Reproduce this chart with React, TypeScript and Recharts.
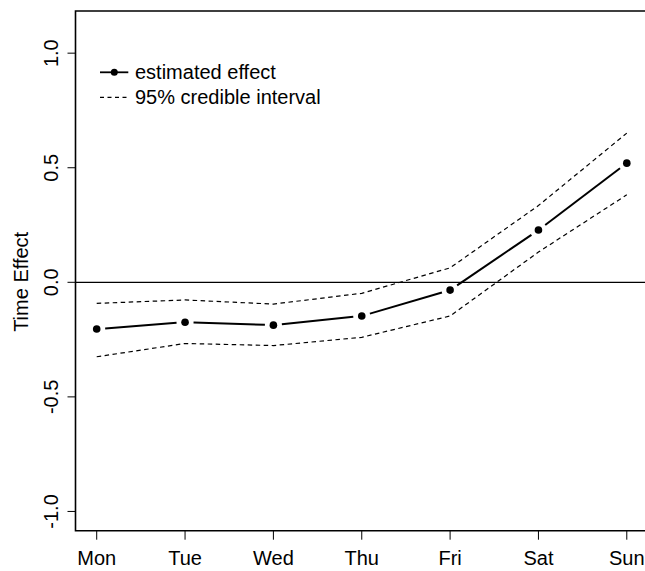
import React from 'react';
import { LineChart, Line, XAxis, YAxis, ReferenceLine, ReferenceArea, Legend } from 'recharts';

const days = ['Mon', 'Tue', 'Wed', 'Thu', 'Fri', 'Sat', 'Sun'];
const dayIndex = [1, 2, 3, 4, 5, 6, 7];
const estimate = [-0.204, -0.174, -0.187, -0.147, -0.034, 0.228, 0.52];
const upper = [-0.092, -0.077, -0.095, -0.048, 0.063, 0.335, 0.651];
const lower = [-0.325, -0.267, -0.276, -0.24, -0.147, 0.132, 0.382];
const yTicks = [-1, -0.5, 0, 0.5, 1];
const xDomain = [0.76, 7.24];
const yDomain = [-1.084, 1.184];
const legendLabels = ['estimated effect', '95% credible interval'];
const yTitle = 'Time Effect';

const data = dayIndex.map((x, i) => ({ x, day: days[i], est: estimate[i], up: upper[i], lo: lower[i] }));

const FONT = '"Liberation Sans", Arial, Helvetica, sans-serif';

const EstDot = (props: any) => {
  const { cx, cy, index, points } = props;
  const next = points && points[index + 1];
  let seg = null;
  if (next) {
    const dx = next.x - cx;
    const dy = next.y - cy;
    const len = Math.hypot(dx, dy);
    const g = 8.5;
    if (len > 2 * g) {
      seg = (
        <line
          x1={cx + (dx / len) * g}
          y1={cy + (dy / len) * g}
          x2={next.x - (dx / len) * g}
          y2={next.y - (dy / len) * g}
          stroke="#000"
          strokeWidth={2}
        />
      );
    }
  }
  return (
    <g key={`est-dot-${index}`}>
      {seg}
      <circle cx={cx} cy={cy} r={3.8} fill="#000" />
    </g>
  );
};

const XTick = (props: any) => {
  const { x, y, payload } = props;
  return (
    <text x={x} y={y} dy={23} textAnchor="middle" fontFamily={FONT} fontSize={20} fill="#000">
      {days[payload.value - 1]}
    </text>
  );
};

const YTick = (props: any) => {
  const { x, y, payload } = props;
  return (
    <text
      x={x}
      y={y}
      transform={`rotate(-90, ${x}, ${y})`}
      textAnchor="middle"
      fontFamily={FONT}
      fontSize={20}
      fill="#000"
    >
      {Number(payload.value).toFixed(1)}
    </text>
  );
};

const YTitle = (props: any) => {
  const vb = props.viewBox || { x: 0, y: 0, width: 0, height: 0 };
  const x = vb.x + 28.3;
  const y = vb.y + vb.height / 2 + 11;
  return (
    <text x={x} y={y} transform={`rotate(-90, ${x}, ${y})`} textAnchor="middle" fontFamily={FONT} fontSize={20} fill="#000">
      {yTitle}
    </text>
  );
};

const LegendContent = () => (
  <svg width={330} height={120} style={{ display: 'block' }}>
    <line x1={100} y1={72.3} x2={128.3} y2={72.3} stroke="#000" strokeWidth={1.8} />
    <circle cx={114.3} cy={72.3} r={3.5} fill="#000" />
    <text x={135} y={78.5} fontFamily={FONT} fontSize={20} fill="#000">{legendLabels[0]}</text>
    <line x1={100} y1={97.3} x2={128.3} y2={97.3} stroke="#000" strokeWidth={1.2} strokeDasharray="4 3.5" />
    <text x={135} y={104.3} fontFamily={FONT} fontSize={20} fill="#000">{legendLabels[1]}</text>
  </svg>
);

export default function App() {
  return (
    <div style={{ position: 'absolute', left: 0, top: 0, width: 645, height: 571, overflow: 'hidden', background: '#fff' }}>
      <LineChart width={660} height={571} data={data} margin={{ top: 11, right: 12, bottom: 0, left: 0 }}>
        <XAxis
          dataKey="x"
          type="number"
          domain={xDomain}
          ticks={dayIndex}
          allowDataOverflow
          axisLine={false}
          tickLine={{ stroke: '#000', strokeWidth: 1 }}
          tickSize={9}
          tickMargin={2}
          height={40.3}
          tick={<XTick />}
        />
        <YAxis
          type="number"
          domain={yDomain}
          ticks={yTicks}
          allowDataOverflow
          axisLine={false}
          tickLine={{ stroke: '#000', strokeWidth: 1 }}
          tickSize={8}
          tickMargin={9.2}
          width={75.5}
          tick={<YTick />}
          label={<YTitle />}
        />
        <ReferenceArea x1={xDomain[0]} x2={xDomain[1]} y1={yDomain[0]} y2={yDomain[1]} fill="none" fillOpacity={0} stroke="#000" strokeWidth={1.6} />
        <ReferenceLine y={0} stroke="#000" strokeWidth={1.2} />
        <Line dataKey="up" stroke="#000" strokeWidth={1.2} strokeDasharray="4.5 3.5" dot={false} activeDot={false} isAnimationActive={false} />
        <Line dataKey="lo" stroke="#000" strokeWidth={1.2} strokeDasharray="4.5 3.5" dot={false} activeDot={false} isAnimationActive={false} />
        <Line dataKey="est" stroke="none" dot={<EstDot />} activeDot={false} isAnimationActive={false} />
        <Legend
          layout="horizontal"
          verticalAlign="middle"
          align="center"
          content={<LegendContent />}
          wrapperStyle={{ position: 'absolute', left: 0, top: 0, width: 330, height: 120, margin: 0 }}
        />
      </LineChart>
    </div>
  );
}
